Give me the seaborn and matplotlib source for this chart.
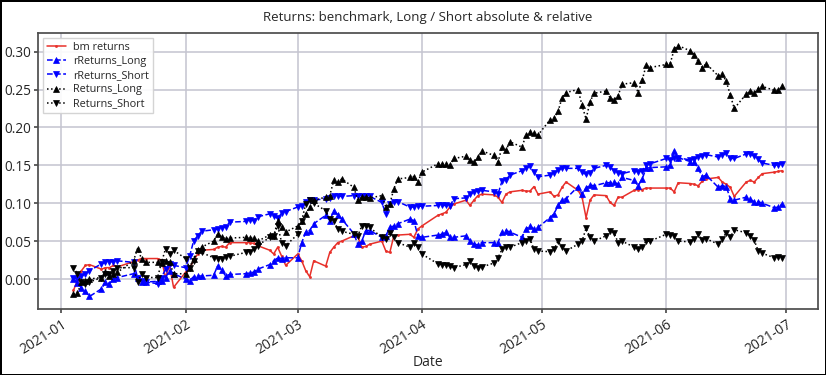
import matplotlib
matplotlib.use("Agg")
import matplotlib.pyplot as plt
import matplotlib.dates as mdates
import pandas as pd
import seaborn as sns

# US trading days, 2021-01-04 .. 2021-06-30
holidays = ["2021-01-18", "2021-02-15", "2021-04-02", "2021-05-31"]
dates = pd.bdate_range("2021-01-04", "2021-06-30")
dates = dates[~dates.isin(pd.to_datetime(holidays))]

bm_returns = [
    # Jan
    -0.015, -0.002, 0.011, 0.018, 0.019, 0.013, 0.015, 0.015, 0.018, 0.016,
    0.023, 0.025, 0.027, 0.027, 0.027, 0.025, 0.002, 0.018, -0.011,
    # Feb
    0.009, 0.015, 0.024, 0.033, 0.038, 0.039, 0.042, 0.043, 0.042, 0.048,
    0.048, 0.048, 0.047, 0.044, 0.038, 0.033, 0.042, 0.030, 0.018,
    # Mar
    0.033, 0.024, 0.011, 0.003, 0.024, 0.017, 0.035, 0.042, 0.048, 0.050,
    0.057, 0.056, 0.042, 0.043, 0.046, 0.050, 0.037, 0.035, 0.057, 0.058,
    0.059, 0.055, 0.066,
    # Apr
    0.070, 0.084, 0.086, 0.088, 0.095, 0.099, 0.104, 0.097, 0.104, 0.110,
    0.112, 0.111, 0.108, 0.101, 0.112, 0.115, 0.117, 0.116, 0.116, 0.122,
    0.112,
    # May
    0.115, 0.109, 0.111, 0.121, 0.128, 0.117, 0.108, 0.081, 0.104, 0.111,
    0.110, 0.101, 0.097, 0.108, 0.108, 0.117, 0.118, 0.118, 0.120, 0.120,
    # Jun
    0.120, 0.120, 0.115, 0.127, 0.126, 0.125, 0.123, 0.129, 0.132, 0.134,
    0.128, 0.125, 0.121, 0.109, 0.128, 0.130, 0.128, 0.134, 0.139, 0.141,
    0.142, 0.143,
]

r_returns_long = [
    0.000, -0.005, -0.012, -0.016, -0.023, -0.013, -0.004, -0.006, 0.000, 0.002,
    0.007, 0.002, -0.004, -0.004, -0.003, -0.002, 0.002, 0.011, 0.007,
    0.000, -0.002, 0.003, 0.004, 0.004, 0.005, 0.017, 0.012, 0.004, 0.006,
    0.007, 0.008, 0.009, 0.013, 0.019, 0.024, 0.028, 0.027, 0.028,
    0.028, 0.048, 0.062, 0.064, 0.073, 0.084, 0.077, 0.090, 0.085, 0.079,
    0.060, 0.046, 0.050, 0.064, 0.064, 0.055, 0.057, 0.068, 0.070, 0.073,
    0.079, 0.077, 0.057,
    0.055, 0.058, 0.059, 0.062, 0.055, 0.055, 0.057, 0.050, 0.046, 0.045,
    0.048, 0.048, 0.048, 0.062, 0.064, 0.062, 0.055, 0.066, 0.070, 0.066,
    0.068,
    0.081, 0.086, 0.097, 0.104, 0.106, 0.122, 0.112, 0.120, 0.124, 0.123,
    0.127, 0.127, 0.128, 0.125, 0.134, 0.130, 0.123, 0.132, 0.146, 0.147,
    0.148, 0.150, 0.169, 0.160, 0.155, 0.154, 0.146, 0.135, 0.137, 0.121,
    0.123, 0.122, 0.106, 0.104, 0.108, 0.105, 0.102, 0.102, 0.100, 0.094,
    0.095, 0.099,
]

r_returns_short = [
    0.002, 0.000, 0.004, 0.007, 0.011, 0.020, 0.022, 0.023, 0.023, 0.024,
    0.022, 0.002, -0.002, -0.004, -0.006, 0.002, 0.013, 0.020, 0.018,
    0.015, 0.030, 0.050, 0.057, 0.063, 0.065, 0.066, 0.067, 0.069, 0.075,
    0.076, 0.078, 0.077, 0.082, 0.086, 0.083, 0.080, 0.087, 0.089,
    0.095, 0.096, 0.101, 0.104, 0.104, 0.106, 0.107, 0.110, 0.109, 0.109,
    0.110, 0.109, 0.110, 0.110, 0.109, 0.101, 0.086, 0.099, 0.101, 0.102,
    0.095, 0.095, 0.096,
    0.096, 0.097, 0.097, 0.097, 0.096, 0.106, 0.107, 0.112, 0.115, 0.116,
    0.117, 0.115, 0.112, 0.129, 0.131, 0.137, 0.143, 0.146, 0.149, 0.141,
    0.135,
    0.137, 0.140, 0.144, 0.146, 0.146, 0.146, 0.141, 0.138, 0.140, 0.146,
    0.150, 0.148, 0.143, 0.140, 0.139, 0.143, 0.141, 0.143, 0.150, 0.152,
    0.159, 0.157, 0.159, 0.160, 0.157, 0.158, 0.161, 0.162, 0.164, 0.161,
    0.163, 0.166, 0.159, 0.159, 0.165, 0.165, 0.162, 0.158, 0.153, 0.150,
    0.151, 0.152,
]

returns_long = [
    -0.020, -0.019, -0.004, -0.002, 0.000, 0.002, 0.009, 0.004, 0.007, 0.009,
    0.024, 0.040, 0.027, 0.022, 0.022, 0.021, 0.024, 0.022, 0.007,
    0.007, 0.015, 0.027, 0.038, 0.042, 0.050, 0.059, 0.056, 0.053, 0.054,
    0.055, 0.054, 0.054, 0.050, 0.058, 0.057, 0.076, 0.068, 0.062,
    0.070, 0.077, 0.086, 0.095, 0.104, 0.108, 0.110, 0.130, 0.128, 0.132,
    0.121, 0.104, 0.108, 0.108, 0.107, 0.110, 0.095, 0.099, 0.119, 0.132,
    0.134, 0.135, 0.128,
    0.141, 0.152, 0.152, 0.152, 0.150, 0.159, 0.162, 0.157, 0.154, 0.161,
    0.169, 0.163, 0.154, 0.174, 0.170, 0.181, 0.174, 0.190, 0.194, 0.192,
    0.190,
    0.210, 0.212, 0.221, 0.239, 0.246, 0.250, 0.229, 0.211, 0.234, 0.245,
    0.248, 0.239, 0.236, 0.242, 0.257, 0.259, 0.246, 0.262, 0.282, 0.279,
    0.283, 0.284, 0.303, 0.308, 0.301, 0.296, 0.287, 0.279, 0.284, 0.268,
    0.270, 0.261, 0.243, 0.225, 0.244, 0.248, 0.246, 0.251, 0.254, 0.249,
    0.249, 0.254,
]

returns_short = [
    0.015, 0.007, -0.004, -0.006, -0.004, 0.002, 0.007, 0.006, 0.011, 0.015,
    0.015, -0.004, 0.007, 0.002, 0.002, 0.022, 0.040, 0.033, 0.038,
    0.027, 0.015, 0.024, 0.037, 0.035, 0.028, 0.026, 0.027, 0.029, 0.030,
    0.035, 0.036, 0.039, 0.044, 0.055, 0.057, 0.070, 0.048, 0.044,
    0.059, 0.077, 0.099, 0.104, 0.100, 0.090, 0.079, 0.077, 0.066, 0.063,
    0.059, 0.057, 0.070, 0.070, 0.068, 0.055, 0.053, 0.061, 0.055, 0.048,
    0.042, 0.048, 0.042,
    0.033, 0.020, 0.019, 0.019, 0.017, 0.015, 0.019, 0.024, 0.017, 0.015,
    0.016, 0.021, 0.028, 0.039, 0.042, 0.042, 0.048, 0.050, 0.053, 0.039,
    0.037,
    0.036, 0.039, 0.050, 0.042, 0.037, 0.046, 0.050, 0.067, 0.055, 0.050,
    0.057, 0.064, 0.061, 0.048, 0.050, 0.042, 0.039, 0.042, 0.050, 0.050,
    0.059, 0.058, 0.057, 0.050, 0.049, 0.053, 0.059, 0.051, 0.053, 0.046,
    0.053, 0.061, 0.055, 0.065, 0.061, 0.057, 0.051, 0.037, 0.034, 0.028,
    0.029, 0.028,
]

df = pd.DataFrame({
    "Date": dates,
    "bm returns": bm_returns,
    "rReturns_Long": r_returns_long,
    "rReturns_Short": r_returns_short,
    "Returns_Long": returns_long,
    "Returns_Short": returns_short,
})

sns.set_theme(style="whitegrid", rc={
    "axes.edgecolor": "0.3",
    "grid.color": "#c4c4d0",
    "grid.linewidth": 1.1,
    "xtick.bottom": True,
    "ytick.left": True,
})
plt.rcParams["font.family"] = ["Open Sans", "DejaVu Sans"]

styles = [
    ("bm returns", "#e8302a", "-", "."),
    ("rReturns_Long", "blue", "--", "^"),
    ("rReturns_Short", "blue", "--", "v"),
    ("Returns_Long", "black", ":", "^"),
    ("Returns_Short", "black", ":", "v"),
]

fig = plt.figure(figsize=(8.26, 3.75), dpi=100)
fig.patch.set_edgecolor("black")
fig.patch.set_linewidth(2)
ax = fig.add_axes([0.046, 0.176, 0.944, 0.736])

for col, color, ls, mk in styles:
    sns.lineplot(
        data=df, x="Date", y=col, ax=ax, color=color, linestyle=ls,
        marker=mk, markersize=4 if mk != "." else 3, markeredgewidth=0.5,
        markeredgecolor=color, linewidth=1.1, label=col,
    )

ax.xaxis.set_major_locator(mdates.MonthLocator())
ax.xaxis.set_major_formatter(mdates.DateFormatter("%Y-%m"))
for lbl in ax.get_xticklabels():
    lbl.set_rotation(32)
    lbl.set_ha("right")
    lbl.set_rotation_mode("anchor")
ax.tick_params(axis="x", labelsize=10, length=3, color="0.3", pad=3)
ax.tick_params(axis="y", labelsize=9.8, length=3, color="0.3", pad=2)
ax.set_xlabel("Date", fontsize=10)
ax.xaxis.set_label_coords(0.5, -0.165)
ax.set_ylabel("")
ax.set_title("Returns: benchmark, Long / Short absolute & relative", fontsize=9.5, pad=9)
ax.margins(x=0.05, y=0.05)

ax.legend(loc="upper left", fontsize=7.8, frameon=True, handlelength=1.7,
          borderpad=0.35, labelspacing=0.28, handletextpad=0.7,
          fancybox=False, framealpha=0.9, edgecolor="#d0d0d0")

fig.savefig("out.png", dpi=100)
